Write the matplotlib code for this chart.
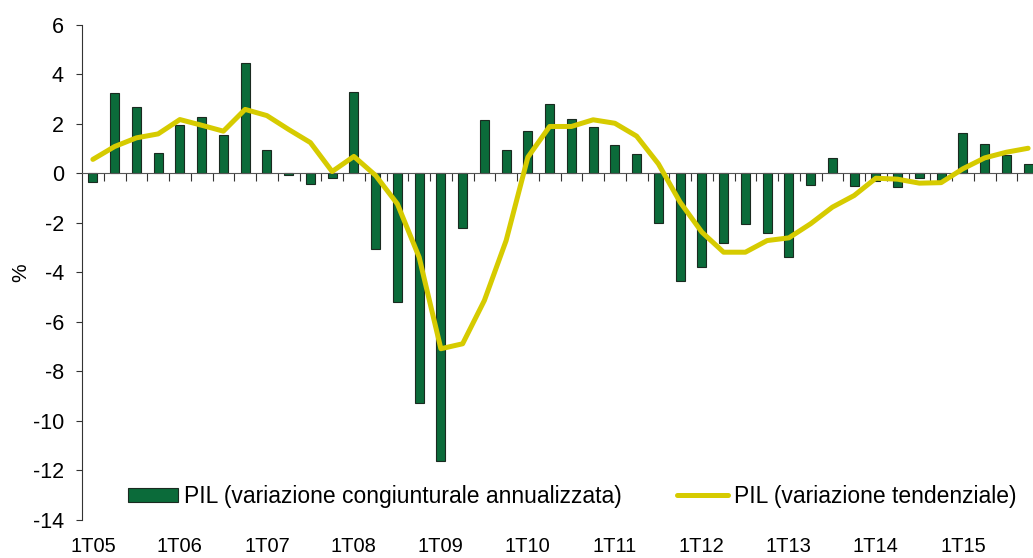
import numpy as np
import matplotlib
matplotlib.use("Agg")
import matplotlib.pyplot as plt

plt.rcParams['font.family'] = ['Liberation Sans', 'DejaVu Sans']
plt.rcParams['axes.unicode_minus'] = False

quarters = [f"{q}T{y:02d}" for y in range(5, 16) for q in range(1, 5)]
tick_labels = [f"1T{y:02d}" for y in range(5, 16)]

# PIL, variazione congiunturale annualizzata (%)
congiunturale = [-0.35, 3.26, 2.67, 0.82, 1.95, 2.30, 1.55, 4.47,
                 0.93, -0.05, -0.44, -0.19, 3.31, -3.06, -5.19, -9.28,
                 -11.62, -2.22, 2.17, 0.93, 1.71, 2.79, 2.21, 1.87,
                 1.16, 0.79, -2.00, -4.34, -3.79, -2.82, -2.03, -2.40,
                 -3.37, -0.46, 0.63, -0.50, -0.30, -0.55, -0.19, -0.25,
                 1.65, 1.21, 0.76, 0.38]

# PIL, variazione tendenziale (%)
tendenziale = [0.57, 1.09, 1.44, 1.60, 2.18, 1.95, 1.71, 2.59,
               2.34, 1.78, 1.25, 0.08, 0.69, -0.08, -1.23, -3.38,
               -7.08, -6.88, -5.13, -2.71, 0.66, 1.90, 1.90, 2.17,
               2.03, 1.51, 0.39, -1.16, -2.37, -3.18, -3.18, -2.71,
               -2.60, -2.03, -1.36, -0.89, -0.19, -0.23, -0.39, -0.37,
               0.19, 0.63, 0.86, 1.02]

x = np.arange(len(quarters))

fig = plt.figure(figsize=(10.33, 5.58), dpi=100)
ax = fig.add_axes([82 / 1033, 1 - 520 / 558, (1039 - 82) / 1033, (520 - 25) / 558])

bars = ax.bar(x, congiunturale, width=0.42, color='#0b6b3a', edgecolor='#1a2a20',
              linewidth=0.8, label='PIL (variazione congiunturale annualizzata)', zorder=2)
line, = ax.plot(x, tendenziale, color='#d6cb00', lw=3.6, solid_joinstyle='round',
                solid_capstyle='round', label='PIL (variazione tendenziale)', zorder=3)

ax.set_xlim(-0.5, len(x) - 0.5)
ax.set_ylim(-14, 6)
ax.set_yticks(range(-14, 7, 2))
ax.tick_params(axis='y', direction='out', length=4, labelsize=15.5, pad=9, color='#333333')
ax.set_ylabel('%', fontsize=15, labelpad=2)

# zero line with boundary ticks
for s in ['top', 'right']:
    ax.spines[s].set_visible(False)
ax.spines['bottom'].set_position(('data', 0))
ax.spines['bottom'].set_color('#555555')
ax.spines['left'].set_color('#333333')
ax.set_xticks(np.arange(0.5, len(x) - 0.5, 1))
ax.tick_params(axis='x', direction='out', length=6, color='#333333', labelbottom=False)

sec = ax.secondary_xaxis('bottom')
sec.spines['bottom'].set_visible(False)
sec.set_xticks(x[::4], tick_labels)
sec.tick_params(length=0, labelsize=14.5, pad=12)

ax.legend(handles=[bars, line], loc='center left',
          bbox_to_anchor=((128 - 82) / 957, (520 - 496.5) / 495),
          ncol=2, frameon=False, fontsize=16.5, handlelength=2.2,
          handleheight=0.6, handletextpad=0.26, columnspacing=2.4,
          borderpad=0, borderaxespad=0)

fig.savefig('out.png', dpi=100)
